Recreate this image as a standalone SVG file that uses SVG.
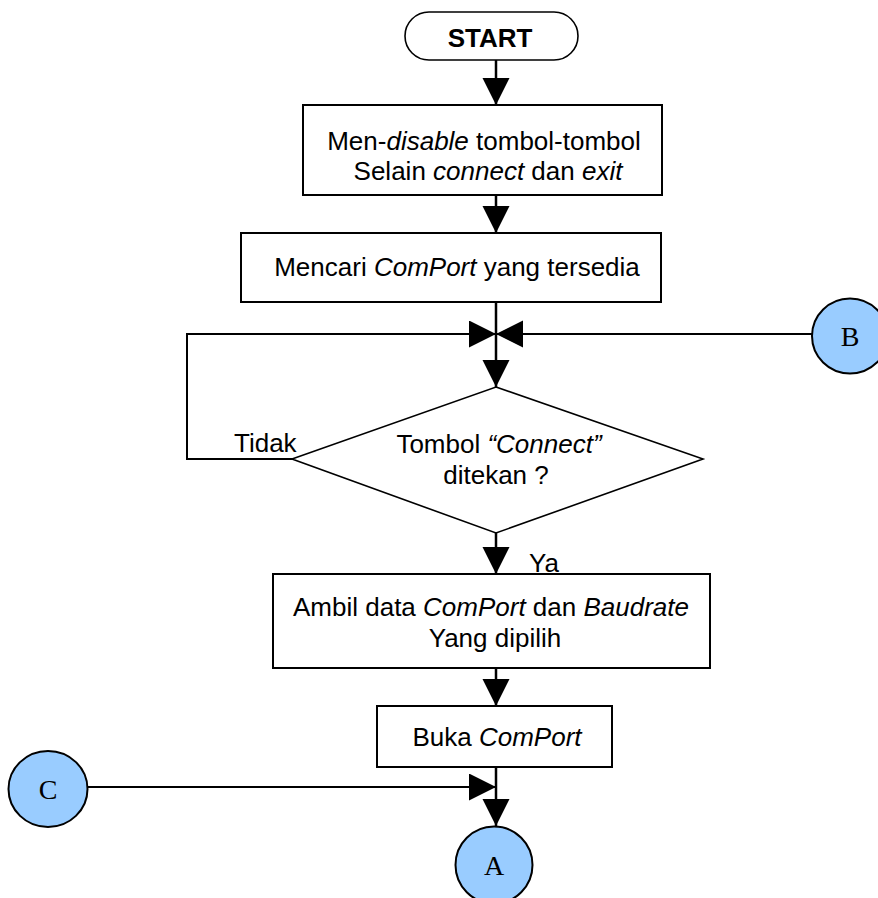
<svg xmlns="http://www.w3.org/2000/svg" width="878" height="898" viewBox="0 0 878 898">
<style>
.box{fill:#fff;stroke:#000;stroke-width:2}
.dia{fill:#fff;stroke:#000;stroke-width:1.6}
.term{fill:#fff;stroke:#000;stroke-width:1.6}
.con{fill:#99CCFF;stroke:#000;stroke-width:2}
.t{font-family:"Liberation Sans",Arial,sans-serif;font-size:26px;fill:#000;text-anchor:middle}
.tl{font-family:"Liberation Sans",Arial,sans-serif;font-size:26px;fill:#000}
.b{font-weight:bold;font-size:26px}
.c{font-family:"Liberation Serif","Times New Roman",serif;font-size:28px;fill:#000;text-anchor:middle}
.ln{fill:none;stroke:#000;stroke-width:2.5}
.lh{fill:none;stroke:#000;stroke-width:2}
</style>
<defs>
<marker id="ah" markerUnits="userSpaceOnUse" markerWidth="28" markerHeight="28" viewBox="0 0 28 28" refX="27" refY="13.5" orient="auto">
<path d="M0,0 L27,13.5 L0,27 z" fill="#000"/>
</marker>
</defs>
<g id="connectors">
<line class="ln" x1="496" y1="60" x2="496" y2="105" marker-end="url(#ah)"/>
<line class="ln" x1="496" y1="195" x2="496" y2="233" marker-end="url(#ah)"/>
<line class="ln" x1="496" y1="302" x2="496" y2="387" marker-end="url(#ah)"/>
<polyline class="lh" points="292,459 187,459 187,334 496,334" marker-end="url(#ah)"/>
<line class="lh" x1="812" y1="334" x2="496" y2="334" marker-end="url(#ah)"/>
<line class="ln" x1="496" y1="533" x2="496" y2="574" marker-end="url(#ah)"/>
<line class="ln" x1="496" y1="668" x2="496" y2="706" marker-end="url(#ah)"/>
<line class="ln" x1="496" y1="767" x2="496" y2="826" marker-end="url(#ah)"/>
<line class="lh" x1="87" y1="787" x2="496" y2="787" marker-end="url(#ah)"/>
<text class="tl" x="234" y="452">Tidak</text>
<text class="tl" x="529" y="572">Ya</text>
</g>
<g id="start">
<rect class="term" x="405" y="12" width="173" height="48" rx="24" ry="24"/>
<text class="t b" x="490" y="47">START</text>
</g>
<g id="disable">
<rect class="box" x="303" y="105" width="359" height="90"/>
<text class="t" x="484" y="150">Men-<tspan font-style="italic">disable</tspan> tombol-tombol</text>
<text class="t" x="488" y="180">Selain <tspan font-style="italic">connect</tspan> dan <tspan font-style="italic">exit</tspan></text>
</g>
<g id="cari">
<rect class="box" x="241" y="233" width="420" height="69"/>
<text class="t" x="457" y="276">Mencari <tspan font-style="italic">ComPort</tspan> yang tersedia</text>
</g>
<g id="decision">
<polygon class="dia" points="496,387 703,459 496,533 292,459"/>
<text class="t" x="499" y="453">Tombol <tspan font-style="italic">“Connect”</tspan></text>
<text class="t" x="496" y="484">ditekan ?</text>
</g>
<g id="ambil">
<rect class="box" x="273" y="574" width="437" height="94"/>
<text class="t" x="491" y="616">Ambil data <tspan font-style="italic">ComPort</tspan> dan <tspan font-style="italic">Baudrate</tspan></text>
<text class="t" x="495" y="647">Yang dipilih</text>
</g>
<g id="buka">
<rect class="box" x="377" y="706" width="235" height="61"/>
<text class="t" x="497" y="746">Buka <tspan font-style="italic">ComPort</tspan></text>
</g>
<g id="B">
<ellipse class="con" cx="850" cy="336" rx="38" ry="37.5"/>
<text class="c" x="850" y="346">B</text>
</g>
<g id="C">
<ellipse class="con" cx="48" cy="789" rx="39.5" ry="38"/>
<text class="c" x="48" y="799">C</text>
</g>
<g id="A">
<ellipse class="con" cx="494" cy="865" rx="38.5" ry="38.5"/>
<text class="c" x="494" y="875">A</text>
</g>
</svg>
